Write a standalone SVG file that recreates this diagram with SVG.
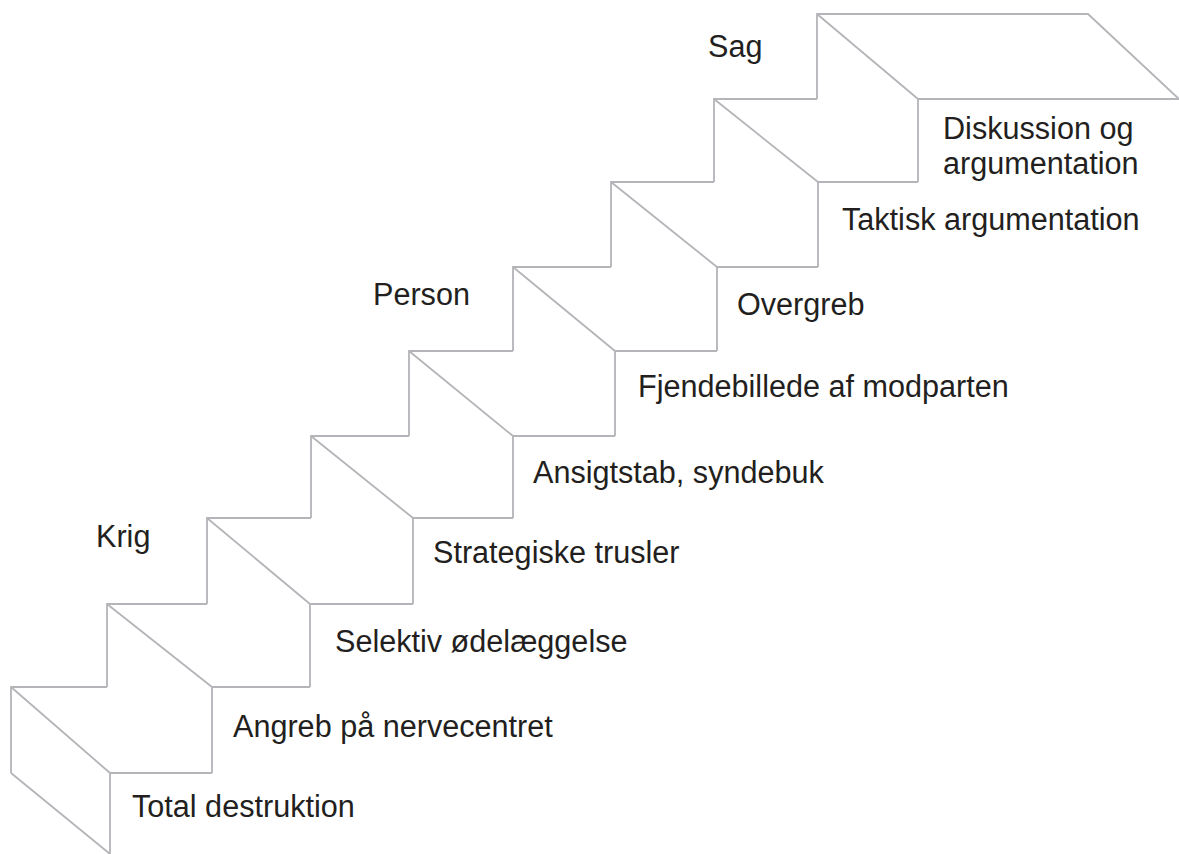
<svg xmlns="http://www.w3.org/2000/svg" width="1179" height="854" viewBox="0 0 1179 854">
  <style>
    .edge { fill: none; stroke: #b4b4b9; stroke-width: 1.8; stroke-linejoin: miter; }
    .lbl { font-family: "Liberation Sans", Arial, sans-serif; font-size: 30.6px; fill: #231f20; }
  </style>
  <rect width="1179" height="854" fill="#ffffff"/>

  <!-- staircase: each step = back riser + tread edge, diagonal, front riser + front edge -->
  <g id="steps" class="edge">
    <g id="step-0"><path d="M11,773 V687 H107 M11,687 L110,773 M110,854 V773 H212 M11,773 L110,854"/></g>
    <g id="step-1"><path d="M107,687 V604 H207 M107,604 L212,687 M212,773 V687 H310"/></g>
    <g id="step-2"><path d="M207,604 V518 H311 M207,518 L310,604 M310,687 V604 H413"/></g>
    <g id="step-3"><path d="M311,518 V436 H409 M311,436 L413,518 M413,604 V518 H513"/></g>
    <g id="step-4"><path d="M409,436 V351 H513 M409,351 L513,436 M513,518 V436 H615"/></g>
    <g id="step-5"><path d="M513,351 V267 H611 M513,267 L615,351 M615,436 V351 H717"/></g>
    <g id="step-6"><path d="M611,267 V182 H714 M611,182 L717,267 M717,351 V267 H818"/></g>
    <g id="step-7"><path d="M714,182 V99 H817 M714,99 L818,182 M818,267 V182 H918"/></g>
    <g id="step-8"><path d="M817,99 V14 H1088 L1179,99 M817,14 L918,99 M918,182 V99 H1179"/></g>
  </g>

  <!-- step labels -->
  <g id="labels">
    <g id="label-0"><text class="lbl" x="132" y="817">Total destruktion</text></g>
    <g id="label-1"><text class="lbl" x="233" y="737">Angreb på nervecentret</text></g>
    <g id="label-2"><text class="lbl" x="335" y="652">Selektiv ødelæggelse</text></g>
    <g id="label-3"><text class="lbl" x="433" y="563">Strategiske trusler</text></g>
    <g id="label-4"><text class="lbl" x="533" y="483">Ansigtstab, syndebuk</text></g>
    <g id="label-5"><text class="lbl" x="638" y="397">Fjendebillede af modparten</text></g>
    <g id="label-6"><text class="lbl" x="737" y="315">Overgreb</text></g>
    <g id="label-7"><text class="lbl" x="842" y="230">Taktisk argumentation</text></g>
    <g id="label-8"><text class="lbl" x="943" y="139">Diskussion og<tspan x="943" y="174">argumentation</tspan></text></g>
  </g>

  <!-- level headings -->
  <g id="headings">
    <g id="heading-sag"><text class="lbl" x="708" y="57">Sag</text></g>
    <g id="heading-person"><text class="lbl" x="373" y="305">Person</text></g>
    <g id="heading-krig"><text class="lbl" x="96" y="547">Krig</text></g>
  </g>
</svg>
